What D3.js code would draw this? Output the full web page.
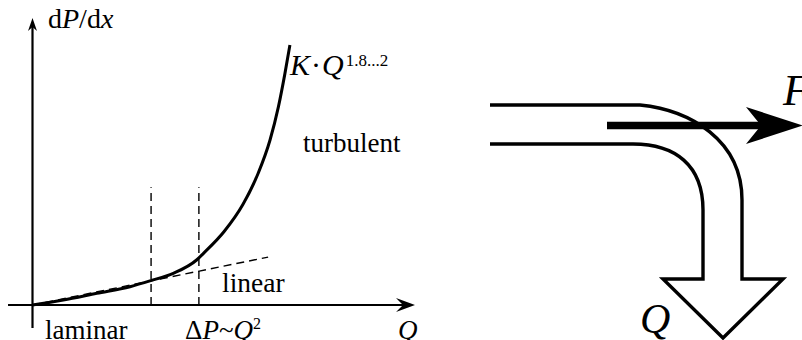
<!DOCTYPE html>
<html>
<head>
<meta charset="utf-8">
<script src="https://cdn.jsdelivr.net/npm/d3@7"></script>
<style>
  html, body { margin: 0; padding: 0; background: #fff; }
  svg { display: block; }
  text { font-family: "Liberation Serif", "Times New Roman", serif; fill: #000; }
</style>
</head>
<body>
<svg id="fig" width="802" height="340"></svg>
<script>
// Pressure gradient vs. flow rate (schematic units)
const flowQ     = [0, 8.05, 16.8, 25.5, 30.9, 36.8, 42.9, 44.7, 50.1, 55.0, 59.0, 62.1, 64.3, 66.0, 67.3];
const gradientP = [0, 1.74, 4.08, 6.38, 8.47, 11.05, 15.68, 18.0, 25.6, 35.0, 45.9, 57.5, 69.1, 80.7, 90.6];
// Laminar (linear) asymptote
const linearQ = [0, 61.6];
const linearP = [0, 16.7];
// Regime boundaries on the Q axis and their height
const boundaryQ = [31, 43.5];
const boundaryTop = 41;
// Axis extents
const axisQ = [-6.4, 100];
const axisP = [-8, 100];

// Bend diagram outline (local units, origin at left end of the upper wall)
const outerWall = [[0, 0], [150, 0]];
const outerBend = [[150, 0], [200, 5], [252, 35], [252, 95]];
const outerDrop = [[252, 95], [252, 174], [293, 174], [233, 233], [173, 174], [213, 174], [213, 105]];
const innerBend = [[213, 105], [213, 60], [185, 39], [143, 39]];
const innerWall = [[143, 39], [0, 39]];
const forceArrow = { start: [117, 20.5], tip: [313, 20.5], back: 57, notch: 42, half: 18.5 };

const svg = d3.select("#fig");

// ---------- left: dP/dx versus Q ----------
const x = d3.scaleLinear().domain([0, 100]).range([32.5, 415]);
const y = d3.scaleLinear().domain([0, 100]).range([305, 18]);

const g = svg.append("g");

// x axis with arrowhead
g.append("line")
  .attr("x1", x(axisQ[0])).attr("y1", y(0))
  .attr("x2", x(axisQ[1]) - 10).attr("y2", y(0))
  .attr("stroke", "#000").attr("stroke-width", 2.2);
g.append("path")
  .attr("d", `M${x(axisQ[1])},${y(0)} L${x(axisQ[1]) - 19},${y(0) - 7} L${x(axisQ[1]) - 12},${y(0)} L${x(axisQ[1]) - 19},${y(0) + 7} Z`)
  .attr("fill", "#000");

// y axis with arrowhead
g.append("line")
  .attr("x1", x(0)).attr("y1", y(axisP[0]))
  .attr("x2", x(0)).attr("y2", y(axisP[1]) + 8)
  .attr("stroke", "#000").attr("stroke-width", 2.2);
g.append("path")
  .attr("d", `M${x(0)},${y(axisP[1])} L${x(0) - 4.5},${y(axisP[1]) + 13} L${x(0)},${y(axisP[1]) + 9} L${x(0) + 4.5},${y(axisP[1]) + 13} Z`)
  .attr("fill", "#000");

// regime boundaries
g.selectAll("line.boundary").data(boundaryQ).enter().append("line")
  .attr("class", "boundary")
  .attr("x1", d => x(d)).attr("x2", d => x(d))
  .attr("y1", y(0)).attr("y2", y(boundaryTop))
  .attr("stroke", "#000").attr("stroke-width", 1.4)
  .attr("stroke-dasharray", "8,5");

// linear asymptote
g.append("path")
  .datum(d3.zip(linearQ, linearP))
  .attr("d", d3.line().x(d => x(d[0])).y(d => y(d[1])))
  .attr("fill", "none").attr("stroke", "#000").attr("stroke-width", 1.4)
  .attr("stroke-dasharray", "8,5");

// characteristic curve
g.append("path")
  .datum(d3.zip(flowQ, gradientP))
  .attr("d", d3.line().x(d => x(d[0])).y(d => y(d[1])).curve(d3.curveMonotoneX))
  .attr("fill", "none").attr("stroke", "#000").attr("stroke-width", 3);

// labels
const yl = g.append("text").attr("x", 48).attr("y", 28).attr("font-size", 28);
yl.append("tspan").text("d");
yl.append("tspan").attr("font-style", "italic").text("P");
yl.append("tspan").text("/d");
yl.append("tspan").attr("font-style", "italic").text("x");

const kl = g.append("text").attr("x", 290).attr("y", 75).attr("font-size", 30);
kl.append("tspan").attr("font-style", "italic").text("K");
kl.append("tspan").attr("dx", 1).text("·");
kl.append("tspan").attr("dx", 1).attr("font-style", "italic").text("Q");
kl.append("tspan").attr("font-size", 17).attr("dx", 2).attr("dy", -9).text("1.8...2");

g.append("text").attr("x", 303).attr("y", 152).attr("font-size", 27).text("turbulent");
g.append("text").attr("x", 222).attr("y", 292).attr("font-size", 27.5).text("linear");
g.append("text").attr("x", 45).attr("y", 339).attr("font-size", 27).text("laminar");

const dl = g.append("text").attr("x", 185).attr("y", 339).attr("font-size", 27);
dl.append("tspan").text("Δ");
dl.append("tspan").attr("font-style", "italic").text("P");
dl.append("tspan").text("~");
dl.append("tspan").attr("font-style", "italic").text("Q");
dl.append("tspan").attr("font-size", 16).attr("dy", -10).text("2");

g.append("text").attr("x", 398).attr("y", 339).attr("font-size", 27)
  .attr("font-style", "italic").text("Q");

// ---------- right: flow through a bend ----------
const dx = d3.scaleLinear().domain([0, 1]).range([490, 491]);
const dy = d3.scaleLinear().domain([0, 1]).range([105, 106]);
const P = p => [dx(p[0]), dy(p[1])];

const path = d3.path();
let p = P(outerWall[0]); path.moveTo(p[0], p[1]);
p = P(outerWall[1]); path.lineTo(p[0], p[1]);
let c1 = P(outerBend[1]), c2 = P(outerBend[2]), e = P(outerBend[3]);
path.bezierCurveTo(c1[0], c1[1], c2[0], c2[1], e[0], e[1]);
outerDrop.slice(1).forEach(q => { const r = P(q); path.lineTo(r[0], r[1]); });
c1 = P(innerBend[1]); c2 = P(innerBend[2]); e = P(innerBend[3]);
path.bezierCurveTo(c1[0], c1[1], c2[0], c2[1], e[0], e[1]);
p = P(innerWall[1]); path.lineTo(p[0], p[1]);

const d = svg.append("g");
d.append("path").attr("d", path.toString())
  .attr("fill", "none").attr("stroke", "#000").attr("stroke-width", 3.4)
  .attr("stroke-linejoin", "miter");

// force arrow
const fs = P(forceArrow.start), ft = P(forceArrow.tip);
d.append("line")
  .attr("x1", fs[0]).attr("y1", fs[1])
  .attr("x2", ft[0] - forceArrow.notch).attr("y2", ft[1])
  .attr("stroke", "#000").attr("stroke-width", 7.5);
d.append("path")
  .attr("d", `M${ft[0]},${ft[1]} L${ft[0] - forceArrow.back},${ft[1] - forceArrow.half} L${ft[0] - forceArrow.notch},${ft[1]} L${ft[0] - forceArrow.back},${ft[1] + forceArrow.half} Z`)
  .attr("fill", "#000");

d.append("text").attr("x", 783).attr("y", 105).attr("font-size", 44)
  .attr("font-style", "italic").text("F");
d.append("text").attr("x", 640).attr("y", 333).attr("font-size", 42)
  .attr("font-style", "italic").text("Q");
</script>
</body>
</html>
